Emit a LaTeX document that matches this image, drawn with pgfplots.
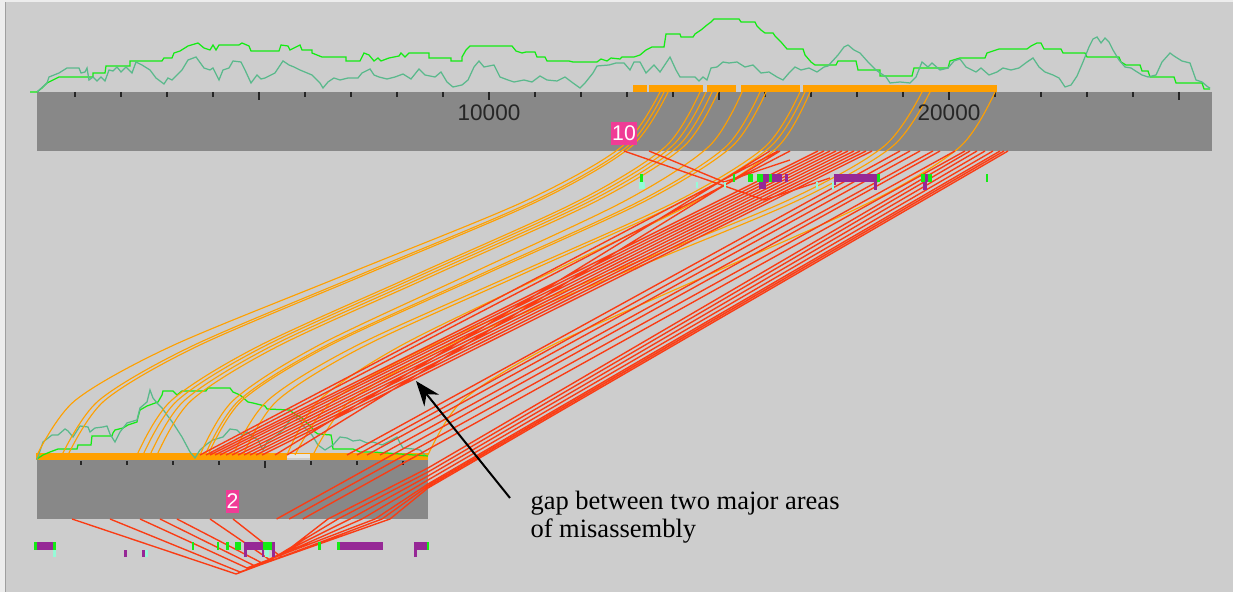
\documentclass[border=0pt]{standalone}
\usepackage{pgfplots}
\pgfplotsset{compat=1.18}
\usepackage{fontspec}
\setmainfont{Liberation Serif}
\newfontfamily\sansf{Liberation Sans}
\usetikzlibrary{arrows.meta}
\definecolor{bg}{RGB}{205,205,205}
\definecolor{barc}{RGB}{136,136,136}
\definecolor{org}{RGB}{255,160,0}
\definecolor{redl}{RGB}{250,60,20}
\definecolor{grn}{RGB}{20,235,20}
\definecolor{tealc}{RGB}{90,185,140}
\definecolor{purp}{RGB}{150,40,150}
\definecolor{aqua}{RGB}{150,250,215}
\definecolor{pinkc}{RGB}{240,60,150}
\newcommand{\rect}[5]{\addplot[fill=#1, draw=none] coordinates {(#2,#3) (#4,#3) (#4,#5) (#2,#5)};}
\newcommand{\ocurve}[7]{\addplot[org, line width=0.45pt, smooth] coordinates {(#1,92) (#2,146.45) (#3,200.9) (#4,273.5) (#5,346.1) (#6,400.55) (#7,455)};}
\begin{document}
\begin{tikzpicture}
\begin{axis}[width=493.2pt, height=236.8pt, scale only axis,
  xmin=0, xmax=1233, ymin=0, ymax=592, y dir=reverse,
  axis lines=none, ticks=none, clip=true, unbounded coords=jump]
% background
\rect{bg}{0}{0}{1233}{592}
\rect{white!93!black}{0}{0}{1233}{2.5}
\rect{white!93!black}{0}{0}{5}{592}
\addplot[gray!75, line width=0.6pt] coordinates {(5.6,2.5) (5.6,592)};
% contig bars
\rect{barc}{37}{92}{1212}{151}
\rect{barc}{37}{460}{428}{519}
% top orange blocks
\rect{org}{633}{85.5}{647}{92}
\rect{org}{648.5}{85.5}{702.5}{92}
\rect{org}{707}{85.5}{736}{92}
\rect{org}{741}{85.5}{799.5}{92}
\rect{org}{803}{85.5}{997}{92}
% bottom orange blocks
\rect{org}{36}{453}{287}{460}
\rect{org}{287}{453}{310}{454.5}
\rect{white!90!black}{287}{454.5}{310}{458}
\rect{org}{310}{453}{428}{460}
% ticks
\addplot[black!85, line width=0.6pt] coordinates {
(75,92) (75,97) (75,nan) (121,92) (121,97) (121,nan) (167,92) (167,97) (167,nan) (213,92) (213,97) (213,nan)
(259,92) (259,100) (259,nan) (305,92) (305,97) (305,nan) (351,92) (351,97) (351,nan) (397,92) (397,97) (397,nan)
(443,92) (443,97) (443,nan) (489,92) (489,100) (489,nan) (535,92) (535,97) (535,nan) (581,92) (581,97) (581,nan)
(627,92) (627,97) (627,nan) (673,92) (673,97) (673,nan) (719,92) (719,100) (719,nan) (765,92) (765,97) (765,nan)
(811,92) (811,97) (811,nan) (857,92) (857,97) (857,nan) (903,92) (903,97) (903,nan) (949,92) (949,100) (949,nan)
(995,92) (995,97) (995,nan) (1041,92) (1041,97) (1041,nan) (1087,92) (1087,97) (1087,nan) (1133,92) (1133,97) (1133,nan)
(1179,92) (1179,100)};
\addplot[black!85, line width=0.6pt] coordinates {
(81,461) (81,465) (81,nan) (127,461) (127,465) (127,nan) (173,461) (173,465) (173,nan) (219,461) (219,465) (219,nan)
(265,461) (265,468) (265,nan) (311,461) (311,465) (311,nan) (357,461) (357,465) (357,nan) (403,461) (403,465)};
% top coverage curves
\addplot[grn, line width=0.5pt] coordinates {
(30,92) (37,92) (42,88) (47,83) (59,77) (93,77) (93,73) (105,73) (106,66) (130,66) (130,61) (162,61) (164,58) (172,58)
(174,53) (180,51) (188,46) (198,43) (204,48) (210,50) (213,45) (216,50) (219,45) (239,45) (242,43) (249,46) (251,51)
(279,51) (281,45) (288,46) (290,50) (300,45) (302,50) (312,50) (312,53) (322,57) (346,57) (346,61) (360,61) (364,53)
(369,55) (374,61) (378,58) (381,61) (389,58) (399,56) (401,53) (405,57) (409,53) (429,53) (429,58) (451,58) (451,61)
(462,61) (462,57) (466,50) (470,46) (512,46) (516,51) (522,53) (526,52) (535,52) (537,57) (545,57) (547,61) (569,61)
(573,62) (597,62) (601,59) (607,61) (611,58) (620,59) (622,57) (634,57) (640,55) (646,50) (652,47) (664,47) (666,34)
(680,34) (681,37) (693,37) (695,34) (701,30) (707,25) (711,22) (714,19) (739,19) (741,22) (755,22) (757,26) (761,30)
(765,33) (773,33) (775,36) (781,42) (787,49) (803,49) (805,55) (811,62) (815,65) (836,65) (838,61) (856,61) (858,70)
(880,70) (880,76) (912,76) (914,68) (948,68) (950,61) (960,58) (985,58) (987,53) (999,49) (1027,49) (1031,46) (1037,43)
(1041,43) (1044,49) (1061,49) (1063,53) (1085,53) (1087,57) (1119,57) (1121,62) (1126,65) (1140,65) (1142,71) (1148,71)
(1150,77) (1174,77) (1176,83) (1202,83) (1204,89) (1210,89)};
\addplot[tealc, line width=0.5pt] coordinates {
(37,92) (47,83) (49,77) (59,73) (67,68) (79,68) (81,73) (85,72) (87,68) (89,80) (93,77) (97,81) (101,77) (105,81)
(109,70) (113,71) (117,67) (121,72) (126,67) (132,73) (136,62) (142,65) (150,70) (156,78) (164,84) (168,78) (172,80)
(176,76) (182,70) (188,60) (196,57) (204,68) (210,70) (213,68) (219,80) (223,70) (229,68) (233,61) (241,62) (245,70)
(251,83) (257,75) (261,79) (265,78) (275,73) (283,61) (289,65) (294,67) (300,70) (312,75) (320,83) (323,88) (328,82)
(334,78) (340,80) (348,78) (358,78) (362,73) (370,69) (374,75) (379,77) (387,79) (395,77) (403,74) (411,79) (419,69)
(425,75) (435,77) (441,72) (447,82) (453,87) (462,85) (468,80) (474,67) (479,61) (484,67) (494,65) (500,77) (508,80)
(514,82) (524,80) (532,82) (540,76) (547,80) (557,81) (565,77) (573,83) (580,88) (585,83) (593,73) (597,66) (609,65)
(616,63) (624,63) (630,70) (634,62) (640,62) (646,73) (654,65) (660,72) (670,57) (676,70) (680,77) (695,77) (699,81)
(703,77) (707,80) (711,68) (717,67) (723,62) (729,63) (737,62) (745,67) (753,65) (761,73) (769,72) (777,77) (783,80)
(789,73) (795,67) (801,70) (809,68) (817,72) (824,67) (828,66) (838,55) (844,47) (848,45) (854,50) (860,53) (868,62)
(876,70) (886,77) (890,83) (900,82) (910,83) (916,77) (922,62) (928,67) (932,63) (940,70) (948,68) (954,61) (960,59)
(966,67) (976,72) (981,68) (989,75) (997,72) (1003,68) (1011,70) (1019,68) (1027,62) (1033,58) (1039,67) (1045,72)
(1053,75) (1059,78) (1065,87) (1071,85) (1077,76) (1083,62) (1089,47) (1093,39) (1097,37) (1101,43) (1105,38) (1109,42)
(1113,50) (1119,60) (1125,67) (1131,68) (1134,70) (1142,75) (1148,77) (1156,75) (1162,62) (1170,53) (1174,56) (1182,61)
(1190,63) (1196,80) (1202,82) (1208,87) (1210,88)};
% bottom coverage curves
\addplot[grn, line width=0.5pt] coordinates {
(37,459) (43,455) (50,452) (58,449) (77,449) (78,445) (91,445) (92,436) (112,436) (113,433) (115,430) (123,428) (128,425)
(137,422) (138,417) (140,410) (147,406) (158,402) (162,395) (163,391) (173,391) (177,395) (182,391) (206,391) (208,388)
(230,388) (233,392) (240,395) (248,402) (253,403) (265,406) (267,409) (290,410) (293,413) (302,418) (307,423) (312,428)
(315,432) (318,434) (331,435) (332,440) (333,449) (353,449) (360,452) (373,452) (400,454) (428,456)};
\addplot[tealc, line width=0.5pt] coordinates {
(37,460) (43,442) (52,435) (58,435) (65,429) (68,431) (73,437) (80,426) (88,427) (90,432) (95,428) (103,427) (107,426)
(110,434) (115,442) (120,432) (127,423) (137,420) (140,408) (147,402) (150,390) (153,398) (157,403) (162,408) (167,415)
(173,423) (182,437) (190,452) (195,458) (200,450) (207,444) (213,440) (223,437) (230,429) (237,430) (242,435) (247,432)
(253,437) (258,440) (263,450) (267,442) (277,435) (283,430) (290,420) (295,417) (300,420) (305,428) (312,435) (318,445)
(325,450) (333,445) (340,437) (347,438) (353,441) (360,440) (367,443) (373,442) (382,445) (390,441) (397,437) (400,443)
(403,448) (413,449) (420,450) (425,455)};
% orange curves
\ocurve{660}{622.0}{525.4}{348.5}{171.6}{75.0}{37}
\ocurve{664}{627.3}{533.9}{363.0}{192.0}{98.7}{62}
\ocurve{668}{631.4}{538.4}{368.0}{197.6}{104.6}{68}
\ocurve{700}{665.7}{578.4}{418.5}{258.6}{171.3}{137}
\ocurve{706}{671.7}{584.4}{424.5}{264.6}{177.3}{143}
\ocurve{712}{677.7}{590.6}{431.0}{271.4}{184.3}{150}
\ocurve{718}{683.8}{596.8}{437.5}{278.2}{191.2}{157}
\ocurve{742}{708.9}{624.9}{471.0}{317.1}{233.1}{200}
\ocurve{760}{726.1}{640.1}{482.5}{324.9}{238.9}{205}
\ocurve{766}{732.0}{645.5}{487.0}{328.5}{242.0}{208}
\ocurve{800}{765.4}{677.5}{516.5}{355.5}{267.6}{233}
\ocurve{805}{770.7}{683.6}{524.0}{364.4}{277.3}{243}
\ocurve{810}{778.1}{697.0}{548.5}{400.0}{318.9}{287}
\ocurve{922}{883.8}{786.6}{608.5}{430.4}{333.3}{295}
\ocurve{930}{892.4}{796.7}{621.5}{446.3}{350.6}{313}
\ocurve{995}{960.4}{872.5}{711.5}{550.5}{462.6}{428}
% red lines: main bundle
\addplot[redl, line width=0.55pt] coordinates {
(778,151) (200,455) (0,nan) (790,151) (206,455) (0,nan) (818,151) (210,455) (0,nan) (824,151) (215,455) (0,nan)
(830,151) (220,455) (0,nan) (836,151) (226,455) (0,nan) (842,151) (232,455) (0,nan) (848,151) (238,455) (0,nan)
(854,151) (244,455) (0,nan) (860,151) (250,455) (0,nan) (866,151) (256,455) (0,nan) (872,151) (262,455) (0,nan)
(770,151) (275,455) (0,nan) (780,151) (287,455)};
% red lines: second bundle
\addplot[redl, line width=0.55pt] coordinates {
(900,151) (347,455) (0,nan) (910,151) (357,455) (0,nan) (920,151) (367,455) (0,nan) (933,151) (380,455) (0,nan)
(940,151) (276.6,519) (0,nan) (955,151) (289.2,519) (0,nan) (965,151) (302.8,519)};
% red lines through the lower contig, with V below
\addplot[redl, line width=0.55pt] coordinates {
(1008,151) (428,488) (390,519) (240,572) (110,519) (0,nan)
(1004,151) (428,486) (382,519) (236,574) (72,519) (0,nan)
(1000,151) (428,484) (375,519) (247,568) (140,519) (0,nan)
(993,151) (428,480) (362,519) (255,566) (160,519) (0,nan)
(985,151) (428,476) (350,519) (262,563) (177,519) (0,nan)
(977,151) (428,472) (338,519) (270,560) (210,519) (0,nan)
(970,151) (428,468) (328,519) (280,556) (233,519)};
% red lines near upper contig
\addplot[redl, line width=0.55pt] coordinates {
(624,151) (716,183) (764,200) (830,178) (0,nan) (649,151) (724,182) (790,160)};
% features below upper contig
\rect{grn}{640}{174}{643}{182}
\rect{aqua}{639}{182}{645}{189}
\rect{aqua}{696}{182}{698}{188}
\rect{aqua}{724}{182}{726}{188}
\rect{grn}{733}{174}{735}{182}
\rect{grn}{748}{174}{753}{182}
\rect{purp}{759}{174}{782}{182}
\rect{purp}{759}{182}{766}{189}
\rect{grn}{757}{174}{763}{182}
\rect{grn}{769}{174}{772}{182}
\rect{purp}{785}{174}{788}{182}
\rect{aqua}{816}{182}{818}{189}
\rect{aqua}{832}{182}{834}{189}
\rect{purp}{834}{174}{878}{182}
\rect{purp}{874}{182}{877}{190}
\rect{purp}{834}{182}{836}{185}
\rect{grn}{877}{174}{880}{182}
\rect{grn}{921}{174}{925}{182}
\rect{purp}{925}{174}{928}{182}
\rect{grn}{928}{174}{932}{182}
\rect{purp}{923}{182}{927}{190}
\rect{grn}{986}{174}{988}{182}
% features below lower contig
\rect{grn}{34}{542}{37}{550}
\rect{purp}{37}{542}{53}{550}
\rect{grn}{53}{542}{56}{550}
\rect{aqua}{53}{550}{56}{557}
\rect{purp}{124}{550}{127}{557}
\rect{purp}{142}{550}{145}{557}
\rect{aqua}{145}{550}{148}{557}
\rect{grn}{192}{542}{194}{550}
\rect{grn}{217}{542}{219}{550}
\rect{grn}{226}{542}{229}{550}
\rect{grn}{235}{542}{241}{550}
\rect{purp}{244}{542}{263}{550}
\rect{purp}{244}{550}{247}{557}
\rect{grn}{263}{542}{272}{550}
\rect{purp}{272}{542}{275}{557}
\rect{aqua}{265}{550}{269}{557}
\rect{purp}{262}{550}{264}{557}
\rect{grn}{318}{542}{321}{550}
\rect{grn}{337}{542}{340}{550}
\rect{purp}{340}{542}{383}{550}
\rect{purp}{414}{542}{427}{550}
\rect{purp}{414}{550}{417}{557}
\rect{grn}{427}{542}{429}{550}
% arrow
\addplot[black, line width=0.8pt, -{Stealth[length=10pt, width=7.5pt]}] coordinates {(510,498) (416,381)};
% texts
\node[anchor=base, text=black!85, font=\sansf\fontsize{9}{10}\selectfont, inner sep=0pt] at (axis cs:489,120.5) {10000};
\node[anchor=base, text=black!85, font=\sansf\fontsize{9}{10}\selectfont, inner sep=0pt] at (axis cs:949,120.5) {20000};
\node[fill=pinkc, text=white, inner sep=0pt, minimum width=10.4pt, minimum height=9pt, font=\sansf\fontsize{8.5}{9}\selectfont] at (axis cs:624,133.5) {10};
\node[fill=pinkc, text=white, inner sep=0pt, minimum width=5.4pt, minimum height=9.2pt, font=\sansf\fontsize{8.5}{9}\selectfont] at (axis cs:232.5,501.5) {2};
\node[anchor=base west, inner sep=0pt, font=\fontsize{10.6}{12}\selectfont] at (axis cs:530,510) {gap between two major areas};
\node[anchor=base west, inner sep=0pt, font=\fontsize{10.6}{12}\selectfont] at (axis cs:530,538) {of misassembly};
\end{axis}
\end{tikzpicture}
\end{document}
